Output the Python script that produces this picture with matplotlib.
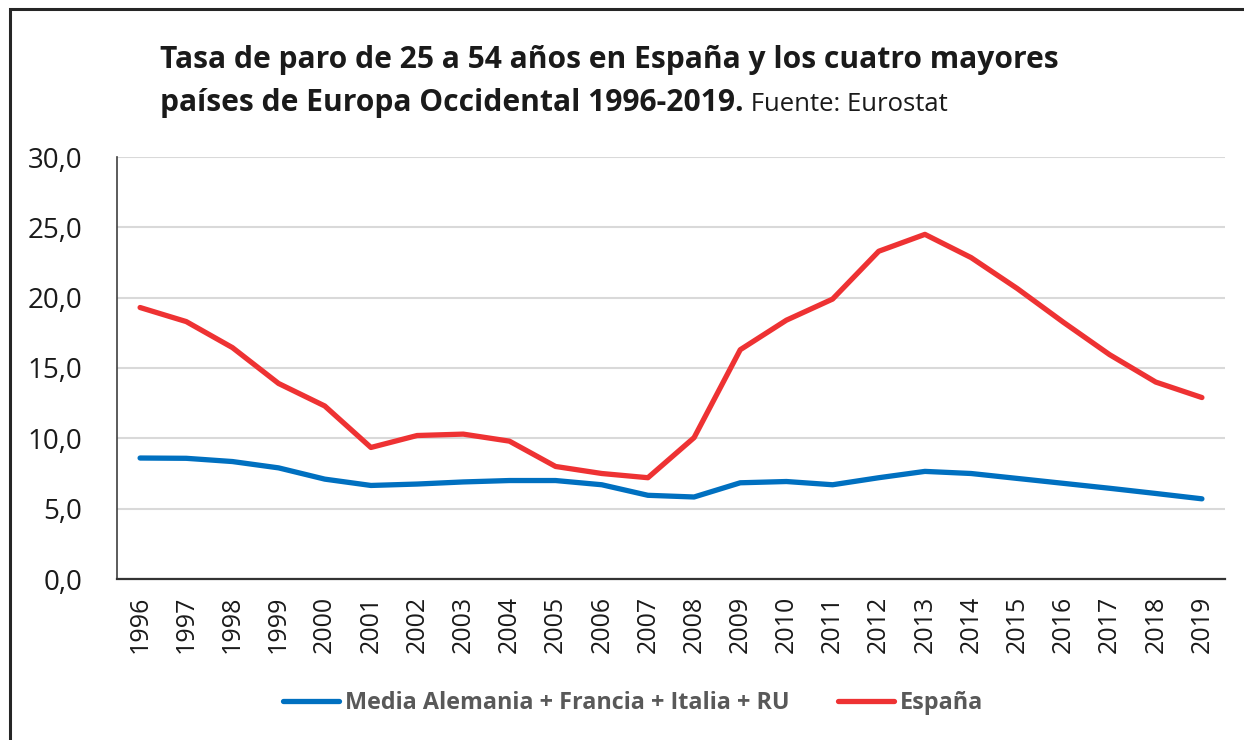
import matplotlib
matplotlib.use("Agg")
import matplotlib.pyplot as plt
from matplotlib.lines import Line2D
from matplotlib.patches import Rectangle
from matplotlib.ticker import FuncFormatter

years = [str(y) for y in range(1996, 2020)]
media_4 = [8.6, 8.58, 8.35, 7.9, 7.1, 6.65, 6.75, 6.9, 7.0, 7.0, 6.7, 5.95,
           5.83, 6.84, 6.93, 6.7, 7.2, 7.65, 7.5, 7.15, 6.8, 6.45, 6.08, 5.7]
espana = [19.3, 18.3, 16.45, 13.9, 12.3, 9.35, 10.2, 10.3, 9.8, 8.0, 7.5, 7.2,
          10.05, 16.3, 18.4, 19.9, 23.3, 24.5, 22.85, 20.65, 18.25, 15.95, 14.0, 12.9]
series_names = ["Media Alemania + Francia + Italia + RU", "España"]
title_1 = "Tasa de paro de 25 a 54 años en España y los cuatro mayores"
title_2 = "países de Europa Occidental 1996-2019."
source = " Fuente: Eurostat"

BLUE = "#0070C0"
RED = "#EE3233"
FONT = "Open Sans"

fig = plt.figure(figsize=(12.44, 7.4), dpi=100)
ax = fig.add_axes([117 / 1244, 1 - 579 / 740, (1225 - 117) / 1244, (579 - 157) / 740])

x = list(range(len(years)))
ax.plot(x, media_4, color=BLUE, lw=3.8, solid_capstyle="round", zorder=3)
ax.plot(x, espana, color=RED, lw=3.8, solid_capstyle="round", zorder=3)

ax.set_xlim(-0.5, len(years) - 0.5)
ax.set_ylim(0, 30)
ax.set_yticks([0, 5, 10, 15, 20, 25, 30])
ax.yaxis.set_major_formatter(FuncFormatter(lambda v, p: f"{v:.1f}".replace(".", ",")))
ax.set_xticks(x)
ax.set_xticklabels(years, rotation=90, fontsize=18, family=FONT, color="#1a1a1a")
for lab in ax.get_yticklabels():
    lab.set_fontfamily(FONT)
    lab.set_fontsize(20)
    lab.set_color("#1a1a1a")
ax.tick_params(axis="x", length=0, pad=12)
ax.tick_params(axis="y", length=0, pad=25)

ax.grid(axis="y", color="#D9D9D9", lw=1.5)
ax.set_axisbelow(True)
for s in ["top", "right"]:
    ax.spines[s].set_visible(False)
ax.spines["left"].set_color("#404040")
ax.spines["left"].set_linewidth(1.2)
ax.spines["bottom"].set_color("#333333")
ax.spines["bottom"].set_linewidth(1.6)

# marco exterior
fig.patches.append(Rectangle((10 / 1244, -0.1), 1.2, 1.1 - 9 / 740, transform=fig.transFigure,
                             fill=False, ec="#262626", lw=2.2, zorder=10))

fig.text(160 / 1244, 1 - 68 / 740, title_1, fontsize=21.6, fontweight="bold",
         family=FONT, color="#1a1a1a", va="baseline")
t2 = fig.text(160 / 1244, 1 - 111 / 740, title_2, fontsize=21.6, fontweight="bold",
              family=FONT, color="#1a1a1a", va="baseline")
fig.canvas.draw()
bb = t2.get_window_extent(fig.canvas.get_renderer())
fig.text(bb.x1 / fig.bbox.width, 1 - 111 / 740, source, fontsize=18.5,
         family=FONT, color="#1a1a1a", va="baseline")

handles = [Line2D([], [], color=BLUE, lw=3.8, solid_capstyle="round"),
           Line2D([], [], color=RED, lw=3.8, solid_capstyle="round")]
leg = fig.legend(handles, series_names, loc="center", bbox_to_anchor=(0.509, 1 - 703 / 740),
                 ncol=2, frameon=False, handlelength=2.4, handletextpad=0.25,
                 columnspacing=2.1, prop={"family": FONT, "weight": "bold", "size": 16.8})
for t in leg.get_texts():
    t.set_color("#595959")

fig.savefig("out.png", dpi=100)
